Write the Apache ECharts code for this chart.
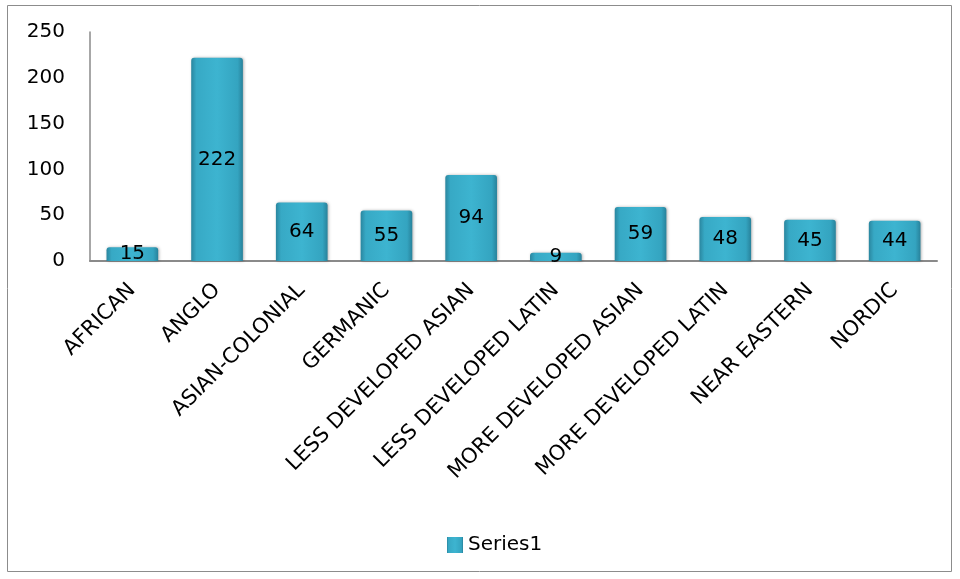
<!DOCTYPE html>
<html><head><meta charset="utf-8">
<script src="https://cdn.jsdelivr.net/npm/echarts@6/dist/echarts.min.js"></script>
<style>html,body{margin:0;padding:0;background:#fff}#c{width:960px;height:579px}</style>
</head><body><div id="c"></div>
<script>
const categories = ["AFRICAN","ANGLO","ASIAN-COLONIAL","GERMANIC","LESS DEVELOPED ASIAN","LESS DEVELOPED LATIN","MORE DEVELOPED ASIAN","MORE DEVELOPED LATIN","NEAR EASTERN","NORDIC"];
const series1 = [15,222,64,55,94,9,59,48,45,44];
const yTicks = [0,50,100,150,200,250];

const font = "'DejaVu Sans', sans-serif";
const barColor = new echarts.graphic.LinearGradient(0,0,1,0,[
  {offset:0,color:'#2a869f'},{offset:0.1,color:'#37a9c5'},{offset:0.5,color:'#3db4d0'},{offset:0.9,color:'#34a4c0'},{offset:1,color:'#28829b'}]);
const chart = echarts.init(document.getElementById('c'), null, {renderer:'canvas'});
chart.setOption({
  animation:false,
  grid:{left:90,right:23,top:32,bottom:318,containLabel:false},
  graphic:[{type:'rect',shape:{x:7.5,y:5.5,width:944,height:566},style:{fill:'none',stroke:'#8c8c8c',lineWidth:1},silent:true}],
  legend:{top:530,left:442,itemWidth:16,itemHeight:16,icon:'rect',
    textStyle:{fontFamily:font,fontSize:20,color:'#000'},data:['Series1']},
  xAxis:{type:'category',data:categories,
    axisLine:{lineStyle:{color:'#8a8a8a',width:2}},axisTick:{show:false},
    axisLabel:{rotate:45,interval:0,fontFamily:font,fontSize:21,color:'#000',margin:26}},
  yAxis:{type:'value',min:0,max:250,interval:50,
    axisLine:{show:true,lineStyle:{color:'#8a8a8a',width:1.5}},axisTick:{show:false},splitLine:{show:false},
    axisLabel:{fontFamily:font,fontSize:20,color:'#000',margin:25,
      formatter:v=>yTicks.includes(v)?String(v):''}},
  series:[{name:'Series1',type:'bar',data:series1,barCategoryGap:'39%',
    itemStyle:{color:barColor,borderRadius:[3,3,0,0],shadowColor:'rgba(0,0,0,0.3)',shadowBlur:3,shadowOffsetX:1},
    label:{show:true,position:'inside',fontFamily:font,fontSize:20,color:'#000'}}]
});
</script></body></html>
